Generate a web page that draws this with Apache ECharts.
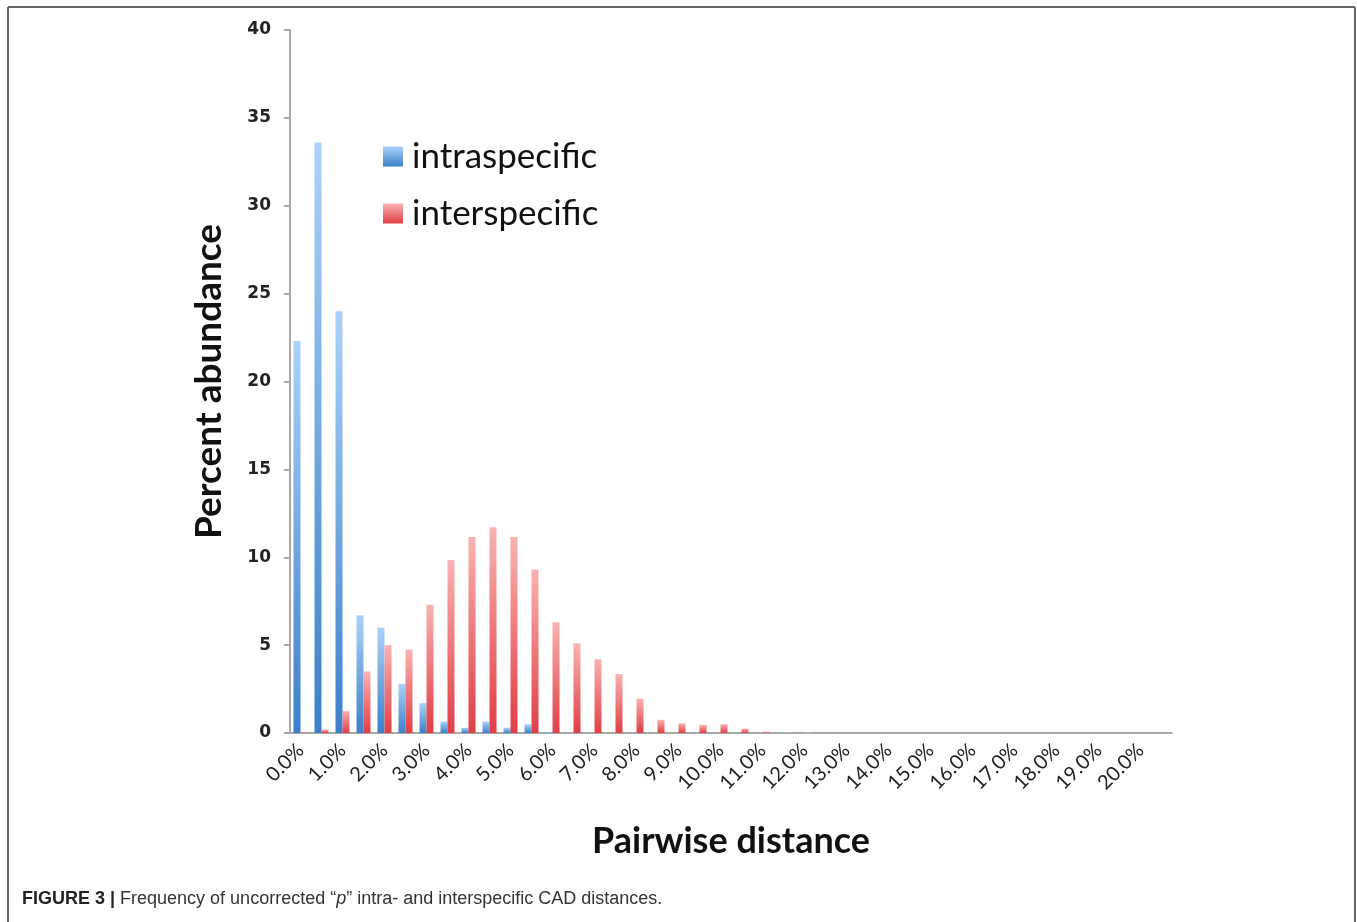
<!DOCTYPE html>
<html>
<head>
<meta charset="utf-8">
<script src="https://cdn.jsdelivr.net/npm/echarts@6/dist/echarts.min.js"></script>
<style>
html,body{margin:0;padding:0;background:#fff;}
#chart{width:1357px;height:922px;}
</style>
</head>
<body>
<div id="chart"></div>
<script>
var categories = ['0.0%','0.5%','1.0%','1.5%','2.0%','2.5%','3.0%','3.5%','4.0%','4.5%',
  '5.0%','5.5%','6.0%','6.5%','7.0%','7.5%','8.0%','8.5%','9.0%','9.5%',
  '10.0%','10.5%','11.0%','11.5%','12.0%','12.5%','13.0%','13.5%','14.0%','14.5%',
  '15.0%','15.5%','16.0%','16.5%','17.0%','17.5%','18.0%','18.5%','19.0%','19.5%',
  '20.0%','20.5%'];
var intraspecific = [22.3, 33.6, 24.0, 6.7, 6.0, 2.8, 1.7, 0.65, 0.3, 0.65,
  0.3, 0.5, 0.05, 0, 0, 0, 0, 0, 0, 0,
  0, 0, 0, 0, 0, 0, 0, 0, 0, 0,
  0, 0, 0, 0, 0, 0, 0, 0, 0, 0,
  0, 0];
var interspecific = [0.05, 0.2, 1.25, 3.5, 5.0, 4.75, 7.3, 9.85, 11.15, 11.7,
  11.15, 9.3, 6.3, 5.1, 4.2, 3.35, 1.95, 0.75, 0.55, 0.47,
  0.5, 0.25, 0.07, 0.03, 0.03, 0, 0, 0, 0, 0,
  0, 0, 0, 0, 0, 0, 0, 0, 0, 0,
  0, 0];
var yTicks = {min: 0, max: 40, interval: 5};

function grad(top, bottom) {
  return {type: 'linear', x: 0, y: 0, x2: 0, y2: 1,
    colorStops: [{offset: 0, color: top}, {offset: 1, color: bottom}]};
}

var chart = echarts.init(document.getElementById('chart'), null, {renderer: 'canvas'});
chart.setOption({
  animation: false,
  backgroundColor: '#fff',
  grid: {left: 290, right: 185, top: 30, bottom: 189},
  legend: {
    orient: 'vertical', left: 378, top: 134,
    itemWidth: 20, itemHeight: 20, itemGap: 22,
    icon: 'rect',
    textStyle: {fontFamily: 'Lato', fontSize: 35, color: '#111', padding: [0, 0, 0, 4]},
    data: ['intraspecific', 'interspecific']
  },
  xAxis: {
    type: 'category',
    data: categories,
    boundaryGap: true,
    name: 'Pairwise distance',
    nameLocation: 'middle',
    nameGap: 90,
    nameTextStyle: {fontFamily: 'Lato', fontWeight: 'bold', fontSize: 36, color: '#111'},
    axisLine: {lineStyle: {color: '#a8a8a8', width: 2}},
    axisTick: {interval: 0, length: 6, lineStyle: {color: '#a8a8a8', width: 2}},
    axisLabel: {interval: 1, rotate: 45, fontFamily: 'Lato', fontSize: 20, color: '#222', margin: 14}
  },
  yAxis: {
    type: 'value',
    min: yTicks.min, max: yTicks.max, interval: yTicks.interval,
    name: 'Percent abundance',
    nameLocation: 'middle',
    nameGap: 62,
    nameRotate: 90,
    nameTextStyle: {fontFamily: 'Lato', fontWeight: 'bold', fontSize: 37, color: '#111'},
    splitLine: {show: false},
    axisLine: {show: true, lineStyle: {color: '#a8a8a8', width: 2}},
    axisTick: {show: true, length: 6, lineStyle: {color: '#a8a8a8', width: 2}},
    axisLabel: {fontFamily: 'DejaVu Sans', fontWeight: 'bold', fontSize: 17, color: '#222', margin: 19}
  },
  series: [
    {
      name: 'intraspecific', type: 'bar', data: intraspecific,
      barWidth: 7, barGap: '0%',
      itemStyle: {color: grad('#acd2f8', '#3a80cb')}
    },
    {
      name: 'interspecific', type: 'bar', data: interspecific,
      barWidth: 7,
      itemStyle: {color: grad('#fab2b2', '#e03e44')}
    }
  ],
  graphic: [
    {type: 'line', shape: {x1: 8, y1: 7, x2: 1355, y2: 7}, style: {stroke: '#666', lineWidth: 2}},
    {type: 'line', shape: {x1: 8, y1: 7, x2: 8, y2: 922}, style: {stroke: '#666', lineWidth: 2}},
    {type: 'line', shape: {x1: 1355, y1: 7, x2: 1355, y2: 922}, style: {stroke: '#666', lineWidth: 2}},
    {
      type: 'text', left: 22, top: 890,
      style: {
        text: '{b|FIGURE 3 |} Frequency of uncorrected \u201c{i|p}\u201d intra- and interspecific CAD distances.',
        font: '18px "Liberation Sans", sans-serif',
        fill: '#333',
        rich: {
          b: {fontFamily: 'Liberation Sans', fontWeight: 'bold', fontSize: 18, fill: '#222'},
          i: {fontFamily: 'Liberation Sans', fontStyle: 'italic', fontSize: 18, fill: '#333'}
        }
      }
    }
  ]
});
</script>
</body>
</html>
